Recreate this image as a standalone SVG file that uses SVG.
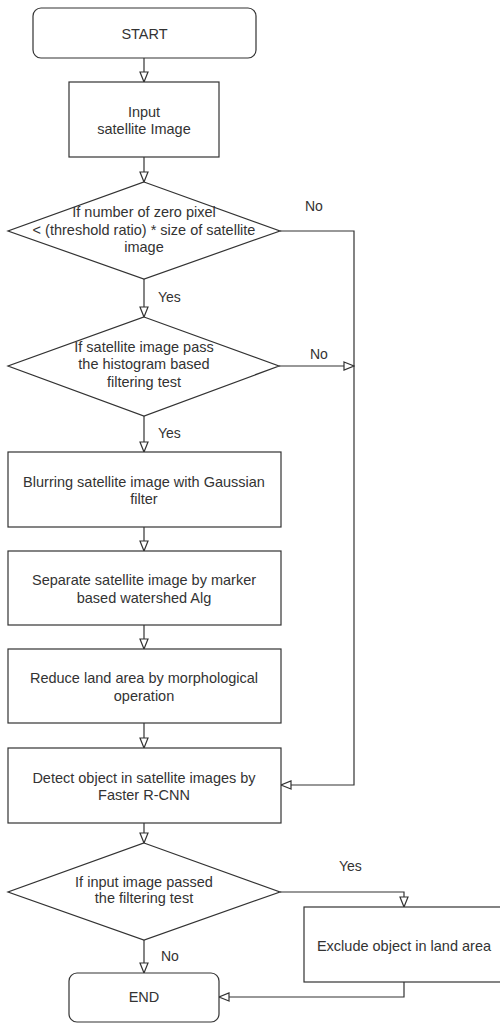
<svg xmlns="http://www.w3.org/2000/svg" width="500" height="1023" viewBox="0 0 500 1023">
<style>
.s{fill:#fff;stroke:#333;stroke-width:1.2}
.t{font-family:"Liberation Sans",Arial,sans-serif;font-size:14.5px;fill:#333;text-anchor:middle}
.l{font-family:"Liberation Sans",Arial,sans-serif;font-size:14px;fill:#333}
.c{fill:none;stroke:#333;stroke-width:1.2;marker-end:url(#a)}
</style>
<defs>
<marker id="a" viewBox="0 0 12 10" refX="11" refY="5" markerWidth="12" markerHeight="10" markerUnits="userSpaceOnUse" orient="auto">
<path d="M1,1 L11,5 L1,9 Z" fill="#fff" stroke="#333" stroke-width="1.2"/>
</marker>
</defs>
<rect width="500" height="1023" fill="#fff"/>
<g id="connectors">
<path class="c" d="M144,58 V82"/>
<path class="c" d="M144,157 V182"/>
<path class="c" d="M144,279 V317"/>
<path class="c" d="M144,416 V452"/>
<path class="c" d="M144,527 V551"/>
<path class="c" d="M144,625 V649"/>
<path class="c" d="M144,723 V748"/>
<path class="c" d="M144,823 V843"/>
<path class="c" d="M144,940 V973"/>
<path class="c" d="M280,231 H354 V785 H281"/>
<path class="c" d="M279,366 H354"/>
<path class="c" d="M280,892 H404 V907"/>
<path class="c" d="M404,982 V997 H219"/>
<text class="l" x="305" y="211">No</text>
<text class="l" x="158" y="302">Yes</text>
<text class="l" x="310" y="359">No</text>
<text class="l" x="158" y="438">Yes</text>
<text class="l" x="339" y="871">Yes</text>
<text class="l" x="161" y="961">No</text>
</g>
<g id="start">
<rect class="s" x="33" y="8" width="223" height="50" rx="8"/>
<text class="t" x="144.5" y="39">START</text>
</g>
<g id="input">
<rect class="s" x="69" y="82" width="150" height="75"/>
<text class="t" x="144" y="117">Input</text>
<text class="t" x="144" y="134">satellite Image</text>
</g>
<g id="decision1">
<path class="s" d="M144,182 L280,231 L144,279 L8,231 Z"/>
<text class="t" x="144" y="217">If number of zero pixel</text>
<text class="t" x="144" y="235">&lt; (threshold ratio) * size of satellite</text>
<text class="t" x="144" y="252">image</text>
</g>
<g id="decision2">
<path class="s" d="M144,317 L279,366 L144,416 L8,366 Z"/>
<text class="t" x="144" y="352">If satellite image pass</text>
<text class="t" x="144" y="369">the histogram based</text>
<text class="t" x="144" y="387">filtering test</text>
</g>
<g id="blur">
<rect class="s" x="8" y="452" width="273" height="75"/>
<text class="t" x="144" y="487">Blurring satellite image with Gaussian</text>
<text class="t" x="144" y="504">filter</text>
</g>
<g id="separate">
<rect class="s" x="8" y="551" width="273" height="74"/>
<text class="t" x="144" y="585">Separate satellite image by marker</text>
<text class="t" x="144" y="603">based watershed Alg</text>
</g>
<g id="reduce">
<rect class="s" x="8" y="649" width="273" height="74"/>
<text class="t" x="144" y="683">Reduce land area by morphological</text>
<text class="t" x="144" y="701">operation</text>
</g>
<g id="detect">
<rect class="s" x="8" y="748" width="273" height="75"/>
<text class="t" x="144" y="783">Detect object in satellite images by</text>
<text class="t" x="144" y="800">Faster R-CNN</text>
</g>
<g id="decision3">
<path class="s" d="M144,843 L280,892 L144,940 L8,892 Z"/>
<text class="t" x="144" y="887">If input image passed</text>
<text class="t" x="144" y="903">the filtering test</text>
</g>
<g id="exclude">
<rect class="s" x="304" y="907" width="200" height="75"/>
<text class="t" x="404" y="951">Exclude object in land area</text>
</g>
<g id="end">
<rect class="s" x="69" y="973" width="150" height="49" rx="8"/>
<text class="t" x="144" y="1002">END</text>
</g>
</svg>
